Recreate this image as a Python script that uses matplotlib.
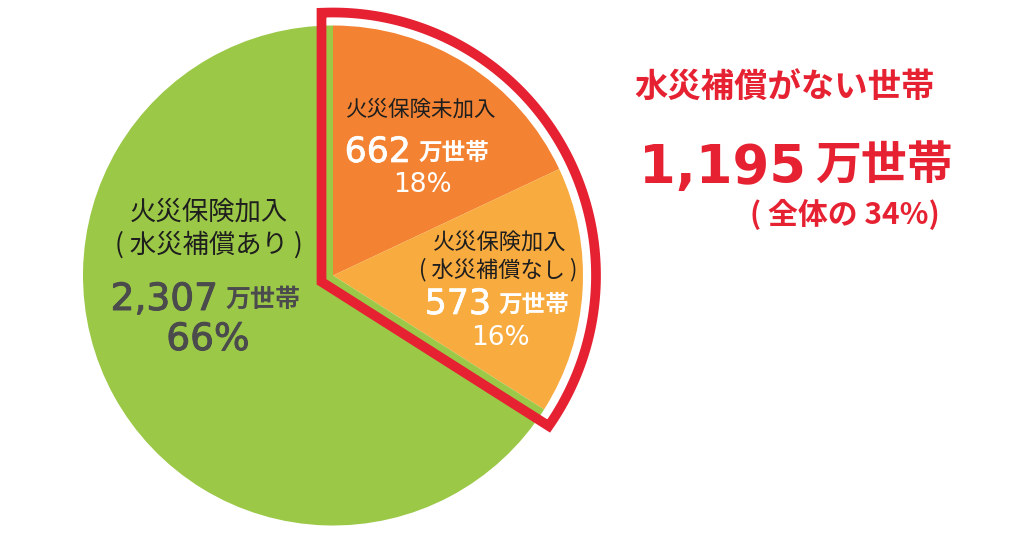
import numpy as np
import matplotlib
matplotlib.use("Agg")
import matplotlib.pyplot as plt
import matplotlib.patheffects as pe
from matplotlib.path import Path
from matplotlib.patches import PathPatch

plt.rcParams['font.family'] = ['Noto Sans CJK JP', 'DejaVu Sans']
NUM = ['DejaVu Sans', 'Noto Sans CJK JP']

# ---- data ----
categories = ["火災保険未加入", "火災保険加入\n( 水災補償なし )", "火災保険加入\n( 水災補償あり )"]
households = [662, 573, 2307]          # 万世帯
shares = [18, 16, 66]                  # %
no_flood_total = 1195
no_flood_share = 34

colors = ["#F38332", "#F8AB3F", "#9BC847"]
RED = "#E62131"
GRAY = "#4B4B4D"
DARK = "#1E1E1E"

W, H = 1024, 534
def Y(y):
    return H - y

def thick(c, w=1.0):
    return [pe.withStroke(linewidth=w, foreground=c)]

fig = plt.figure(figsize=(W / 100, H / 100), dpi=100)
ax = fig.add_axes([0, 0, 1, 1])

cx, cy, R = 333, Y(275.5), 250
ax.pie(shares, colors=colors, startangle=90, counterclock=False,
       radius=R, center=(cx, cy), wedgeprops=dict(linewidth=0))

# ---- red outline around the "no flood cover" slices ----
span = 360 * (shares[0] + shares[1]) / sum(shares)
a_bot = np.deg2rad(90 - span)
d = 11.5
Ro = 263
n1 = np.array([-1.0, 0.0])
n2 = np.array([np.cos(a_bot - np.pi / 2), np.sin(a_bot - np.pi / 2)])
u2 = np.array([np.cos(a_bot), np.sin(a_bot)])
inner = np.linalg.solve(np.vstack([n1, n2]), np.array([d, d]))
top_pt = np.array([-d, np.sqrt(Ro**2 - d**2)])
bot_pt = d * n2 + np.sqrt(Ro**2 - d**2) * u2
ang_b = np.arctan2(bot_pt[1], bot_pt[0])
ang_t = np.arctan2(top_pt[1], top_pt[0])
arc = np.linspace(ang_b, ang_t, 120)
pts = [top_pt, inner, bot_pt] + [np.array([Ro * np.cos(a), Ro * np.sin(a)]) for a in arc[1:]]
pts = np.array(pts) + np.array([cx, cy])
verts = np.vstack([pts, pts[0]])
codes = [Path.MOVETO] + [Path.LINETO] * (len(verts) - 2) + [Path.CLOSEPOLY]
ax.add_patch(PathPatch(Path(verts, codes), facecolor="none", edgecolor=RED,
                       linewidth=7, joinstyle="miter", zorder=5))

# ---- labels: green slice ----
ax.text(209, Y(212), "火災保険加入", ha="center", va="center", fontsize=19, color=DARK)
ax.text(209, Y(245), "( 水災補償あり )", ha="center", va="center", fontsize=19, color=DARK)
ax.text(218, Y(310), f"{households[2]:,}", ha="right", va="baseline", fontsize=27,
        color=GRAY, family=NUM, path_effects=thick(GRAY, 0.7))
ax.text(226, Y(307), "万世帯", ha="left", va="baseline", fontsize=18, color=GRAY, fontweight="bold")
ax.text(208, Y(350), f"{shares[2]}%", ha="center", va="baseline", fontsize=27,
        color=GRAY, family=NUM, path_effects=thick(GRAY, 0.7))

# ---- labels: orange slice (未加入) ----
ax.text(421, Y(110), categories[0], ha="center", va="center", fontsize=15.5, color=DARK)
ax.text(411, Y(162), f"{households[0]}", ha="right", va="baseline", fontsize=25,
        color="white", family=NUM, path_effects=thick("white", 0.5))
ax.text(419, Y(160), "万世帯", ha="left", va="baseline", fontsize=17, color="white", fontweight="bold")
ax.text(422, Y(192), f"{shares[0]}%", ha="center", va="baseline", fontsize=19, color="white",
        family=NUM)

# ---- labels: light orange slice (水災補償なし) ----
ax.text(500, Y(243), "火災保険加入", ha="center", va="center", fontsize=16, color=DARK)
ax.text(498, Y(270), "( 水災補償なし )", ha="center", va="center", fontsize=16, color=DARK)
ax.text(491, Y(314), f"{households[1]}", ha="right", va="baseline", fontsize=25,
        color="white", family=NUM, path_effects=thick("white", 0.5))
ax.text(499, Y(312), "万世帯", ha="left", va="baseline", fontsize=17, color="white", fontweight="bold")
ax.text(500, Y(345), f"{shares[1]}%", ha="center", va="baseline", fontsize=19, color="white",
        family=NUM)

# ---- right side summary ----
ax.text(785, Y(88), "水災補償がない世帯", ha="center", va="center", fontsize=24,
        color=RED, fontweight="bold")
ax.text(806, Y(183), f"{no_flood_total:,}", ha="right", va="baseline", fontsize=38,
        color=RED, fontweight="bold", family=NUM)
ax.text(815, Y(180), "万世帯", ha="left", va="baseline", fontsize=33, color=RED, fontweight="bold")
ax.text(940, Y(224), f"( 全体の {no_flood_share}%)", ha="right", va="baseline", fontsize=21.5,
        color=RED, fontweight="bold")

ax.set_xlim(0, W)
ax.set_ylim(0, H)
ax.set_aspect("equal")
ax.axis("off")

fig.savefig("out.png", dpi=100, facecolor="white")
